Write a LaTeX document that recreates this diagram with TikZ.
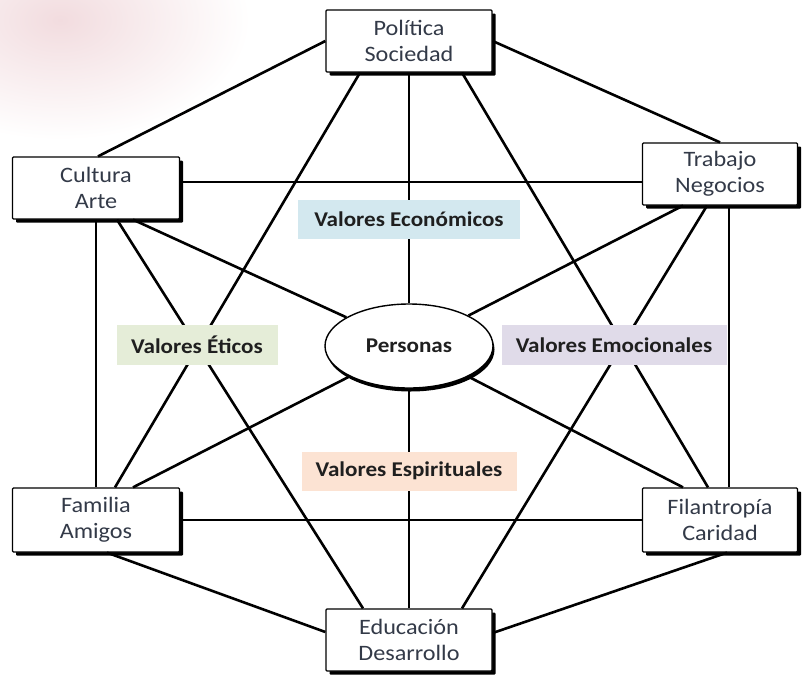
\documentclass[tikz,border=0pt]{standalone}
\usepackage{fontspec}
\setmainfont{Carlito}[FakeStretch=1.1]
\usetikzlibrary{shadows,calc,shapes.geometric}
\definecolor{txtgray}{HTML}{333A48}
\definecolor{ecoblue}{HTML}{D3E8EF}
\definecolor{etigreen}{HTML}{E5EDD8}
\definecolor{emolav}{HTML}{E0DBE9}
\definecolor{espeach}{HTML}{FCE3D3}
\definecolor{blush}{HTML}{F2DCDF}
\tikzset{
  boxnode/.style={draw=black, line width=1.3pt, fill=white, minimum height=62pt,
    align=center, text=txtgray, font=\fontsize{22}{26}\selectfont, inner sep=0pt,
    rounded corners=1pt,
    drop shadow={shadow xshift=3.5pt, shadow yshift=-3.5pt, fill=black, opacity=1}},
  valnode/.style={font=\bfseries\fontsize{21}{24}\selectfont, text=black!88, inner sep=0pt, minimum height=39pt},
  link/.style={line width=2.6pt, black}
}
\begin{document}
\begin{tikzpicture}[x=1pt,y=-1pt]
\useasboundingbox (0,0) rectangle (802,675);
\shade[inner color=blush, outer color=white] (60,20) ellipse (190 and 120);
% nodes
\node[boxnode, minimum width=166pt] (pol) at (409,41) {Política\\Sociedad};
\node[boxnode, minimum width=167pt] (cul) at (96,188) {Cultura\\Arte};
\node[boxnode, minimum width=155pt] (tra) at (720,174) {Trabajo\\Negocios};
\node[boxnode, minimum width=167pt, minimum height=64pt] (fam) at (96,520) {Familia\\Amigos};
\node[boxnode, minimum width=155pt, minimum height=64pt] (fil) at (720,520) {Filantropía\\Caridad};
\node[boxnode, minimum width=166pt] (edu) at (409,640) {Educación\\Desarrollo};
\node[draw=black, line width=1.4pt, fill=white, ellipse, minimum width=168pt, minimum height=84pt,
  inner sep=0pt, font=\bfseries\fontsize{21}{24}\selectfont, text=black!88,
  drop shadow={shadow xshift=1.5pt, shadow yshift=-3.5pt, fill=black, opacity=1}] (per) at (409,346) {Personas};
% hexagon sides
\draw[link] (pol.west) -- ($(cul.north)+(2,0)$);
\draw[link] (pol.east) -- (tra.north);
\draw[link] (cul.south) -- (fam.north);
\draw[link] ($(tra.south)+(9,0)$) -- ($(fil.north)+(9,0)$);
\draw[link] ($(fam.south)+(11,0)$) -- ($(edu.west)+(0,-8)$);
\draw[link] ($(fil.south)+(7,0)$) -- ($(edu.east)+(0,-7)$);
% diagonals
\draw[link] ($(pol.south)+(-49,0)$) -- ($(fam.north)+(19,0)$);
\draw[link] ($(pol.south)+(53,0)$) -- ($(fil.north)+(-12,0)$);
\draw[link] ($(cul.east)+(0,-6)$) -- ($(tra.west)+(0,8)$);
\draw[link] ($(cul.south)+(21,0)$) -- ($(edu.north)+(-46,0)$);
\draw[link] ($(tra.south)+(-13,0)$) -- ($(edu.north)+(53,0)$);
\draw[link] (fam.east) -- (fil.west);
% spokes
\draw[link] (pol.south) -- (per.north);
\draw[link] (per.south) -- (edu.north);
\draw[link] ($(cul.south)+(37,0)$) -- (per);
\draw[link] ($(tra.south)+(-37,0)$) -- (per);
\draw[link] ($(fam.north)+(37,0)$) -- (per);
\draw[link] ($(fil.north)+(-37,0)$) -- (per);
% value labels
\node[valnode, fill=ecoblue, minimum width=222pt] (eco) at (409,219) {Valores Económicos};
\node[valnode, fill=etigreen, minimum width=161pt, minimum height=40pt] (eti) at (197,345) {Valores Éticos};
\node[valnode, fill=emolav, minimum width=225pt, minimum height=40pt] (emo) at (614,345) {Valores Emocionales};
\node[valnode, fill=espeach, minimum width=215pt] (esp) at (409,471) {Valores Espirituales};
\end{tikzpicture}
\end{document}
